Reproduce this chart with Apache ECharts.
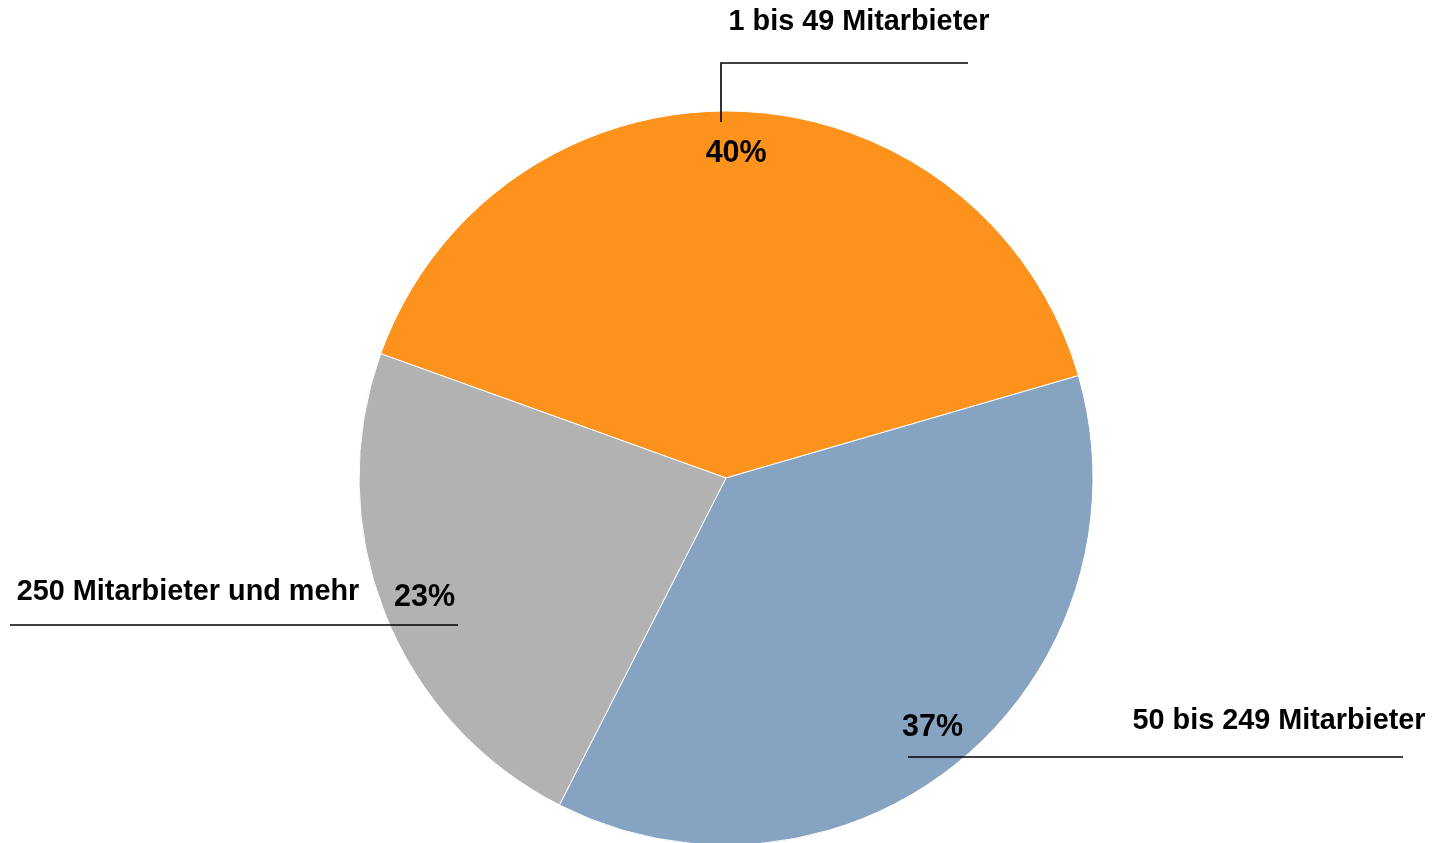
<!DOCTYPE html>
<html>
<head>
<meta charset="utf-8">
<script src="https://cdn.jsdelivr.net/npm/echarts@6/dist/echarts.min.js"></script>
<style>html,body{margin:0;padding:0;background:#fff}#c{width:1432px;height:843px}</style>
</head>
<body>
<div id="c"></div>
<script>
// ---- data ----
const categories = ['1 bis 49 Mitarbieter', '50 bis 249 Mitarbieter', '250 Mitarbieter und mehr'];
const values = [40, 37, 23];
const colors = ['#FD921C', '#87A3C2', '#B2B2B2'];

// ---- layout ----
const CX = 726, CY = 478, R = 367;
const START = 160.2;
const FONT = '"Liberation Sans", Arial, sans-serif';
// label anchors & leader lines relative to pie centre (px)
const labelPlacement = [
  { x: 133, y: -456, line: [[-5, -356], [-5, -415], [242, -415]] },
  { x: 553, y: 243, line: [[182, 279], [182, 279], [677, 279]] },
  { x: -538, y: 114, line: [[-268, 147], [-268, 147], [-716, 147]] }
];

const chart = echarts.init(document.getElementById('c'));

chart.setOption({
  animation: false,
  series: [
    {
      type: 'pie',
      z: 1,
      center: [CX, CY],
      radius: R,
      startAngle: START,
      clockwise: true,
      silent: true,
      itemStyle: { borderColor: '#fff', borderWidth: 1 },
      data: categories.map((n, i) => ({ name: n, value: values[i], itemStyle: { color: colors[i] } })),
      label: { show: false },
      labelLine: { show: false }
    },
    {
      type: 'pie',
      z: 3,
      center: [CX, CY],
      radius: [0, R * 1.75],
      startAngle: START,
      clockwise: true,
      silent: true,
      itemStyle: { color: 'rgba(0,0,0,0)' },
      data: categories.map((n, i) => ({ name: n, value: values[i] })),
      label: {
        show: true,
        position: 'inside',
        formatter: '{c}%',
        fontFamily: FONT,
        fontWeight: 'bold',
        fontSize: 30.5,
        color: '#000'
      },
      labelLine: { show: false }
    },
    {
      type: 'pie',
      z: 5,
      center: [CX, CY],
      radius: R,
      startAngle: START,
      clockwise: true,
      silent: true,
      itemStyle: { color: 'rgba(0,0,0,0)' },
      data: categories.map((n, i) => ({ name: n, value: values[i] })),
      label: {
        show: true,
        position: 'outside',
        formatter: '{b}',
        overflow: 'none',
        fontFamily: FONT,
        fontWeight: 'bold',
        fontSize: 28.8,
        color: '#000'
      },
      labelLine: { show: true, lineStyle: { color: '#000', width: 1.6 } },
      labelLayout: function (p) {
        const L = labelPlacement[p.dataIndex];
        return {
          x: CX + L.x,
          y: CY + L.y,
          align: 'center',
          verticalAlign: 'middle',
          width: 500,
          labelLinePoints: L.line.map(pt => [CX + pt[0], CY + pt[1]])
        };
      }
    }
  ]
});
</script>
</body>
</html>
